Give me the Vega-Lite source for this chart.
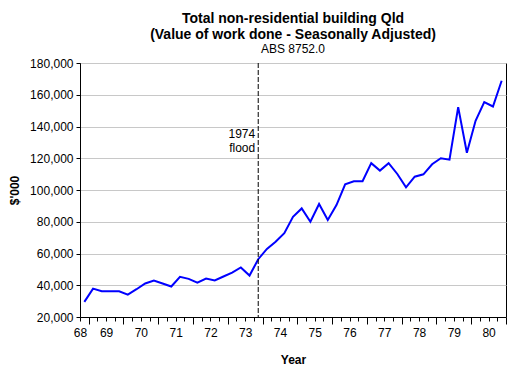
{
  "$schema": "https://vega.github.io/schema/vega-lite/v6.json",
  "width": 426,
  "height": 254,
  "autosize": "none",
  "padding": {"left": 80, "top": 63, "right": 5, "bottom": 56},
  "background": "white",
  "config": {
    "view": {"stroke": "black", "strokeWidth": 1},
    "font": "Liberation Sans",
    "axis": {"labelFont": "Liberation Sans", "titleFont": "Liberation Sans", "labelColor": "black", "titleColor": "black", "domainColor": "black", "tickColor": "black"}
  },
  "title": {
    "text": ["Total non-residential building Qld", "(Value of work done - Seasonally Adjusted)"],
    "subtitle": "ABS 8752.0",
    "fontSize": 14,
    "fontWeight": "bold",
    "lineHeight": 16.5,
    "subtitleFontSize": 12,
    "subtitlePadding": 2,
    "anchor": "middle",
    "offset": 2,
    "color": "black",
    "subtitleColor": "black",
    "font": "Liberation Sans",
    "subtitleFont": "Liberation Sans"
  },
  "datasets": {
    "series": [
      {"q": 0, "value": 29500}, {"q": 1, "value": 37900}, {"q": 2, "value": 36200}, {"q": 3, "value": 36200},
      {"q": 4, "value": 36200}, {"q": 5, "value": 34100}, {"q": 6, "value": 37500}, {"q": 7, "value": 41100},
      {"q": 8, "value": 43000}, {"q": 9, "value": 41100}, {"q": 10, "value": 39200}, {"q": 11, "value": 45300},
      {"q": 12, "value": 44000}, {"q": 13, "value": 41700}, {"q": 14, "value": 44200}, {"q": 15, "value": 43000},
      {"q": 16, "value": 45500}, {"q": 17, "value": 48000}, {"q": 18, "value": 51200}, {"q": 19, "value": 46100},
      {"q": 20, "value": 56400}, {"q": 21, "value": 62900}, {"q": 22, "value": 67400}, {"q": 23, "value": 72800},
      {"q": 24, "value": 83100}, {"q": 25, "value": 88400}, {"q": 26, "value": 80000}, {"q": 27, "value": 91200},
      {"q": 28, "value": 81100}, {"q": 29, "value": 90500}, {"q": 30, "value": 103600}, {"q": 31, "value": 105500},
      {"q": 32, "value": 105500}, {"q": 33, "value": 116900}, {"q": 34, "value": 112200}, {"q": 35, "value": 116900},
      {"q": 36, "value": 110100}, {"q": 37, "value": 101700}, {"q": 38, "value": 108400}, {"q": 39, "value": 109900},
      {"q": 40, "value": 116200}, {"q": 41, "value": 120000}, {"q": 42, "value": 119100}, {"q": 43, "value": 152200},
      {"q": 44, "value": 123500}, {"q": 45, "value": 143600}, {"q": 46, "value": 155400}, {"q": 47, "value": 152600},
      {"q": 48, "value": 168800}
    ],
    "flood": [{"q": 20}],
    "floodLabel": [
      {"q": 20, "value": 135400, "label": "1974"},
      {"q": 20, "value": 126300, "label": "flood"}
    ]
  },
  "layer": [
    {
      "data": {"name": "series"},
      "mark": {"type": "line", "color": "#0000ff", "strokeWidth": 2},
      "encoding": {
        "x": {
          "field": "q",
          "type": "quantitative",
          "scale": {"domain": [-0.5, 48.5], "nice": false, "zero": false},
          "axis": {
            "title": "Year",
            "titleFontSize": 12,
            "titleFontWeight": "bold",
            "titlePadding": 13,
            "grid": false,
            "tickCount": 200,
            "values": [-0.5, 0.5, 1.5, 2.5, 3.5, 4.5, 5.5, 6.5, 7.5, 8.5, 9.5, 10.5, 11.5, 12.5, 13.5, 14.5, 15.5, 16.5, 17.5, 18.5, 19.5, 20.5, 21.5, 22.5, 23.5, 24.5, 25.5, 26.5, 27.5, 28.5, 29.5, 30.5, 31.5, 32.5, 33.5, 34.5, 35.5, 36.5, 37.5, 38.5, 39.5, 40.5, 41.5, 42.5, 43.5, 44.5, 45.5, 46.5, 47.5, 48.5],
            "labelExpr": "datum.value == -0.5 ? '68' : ((datum.value - 2.5) % 4 == 0 ? format(69 + (datum.value - 2.5) / 4, 'd') : '')",
            "tickSize": {"condition": {"test": "(datum.value - 0.5) % 4 == 0", "value": 7}, "value": 4},
            "labelFontSize": 12,
            "labelPadding": 6,
            "labelOverlap": false,
            "labelFlush": false,
            "labelBound": false
          }
        },
        "y": {
          "field": "value",
          "type": "quantitative",
          "scale": {"domain": [20000, 180000], "nice": false, "zero": false},
          "axis": {
            "title": "$'000",
            "titleFontSize": 12,
            "titleFontWeight": "bold",
            "titlePadding": 8,
            "tickCount": 50,
            "values": [20000, 40000, 60000, 80000, 100000, 120000, 140000, 160000, 180000],
            "format": ",d",
            "labelFontSize": 12,
            "labelPadding": 3,
            "labelOverlap": false,
            "tickSize": 4,
            "grid": true,
            "gridColor": "#c8c8c8",
            "gridWidth": 1
          }
        }
      }
    },
    {
      "data": {"name": "flood"},
      "mark": {"type": "rule", "color": "black", "strokeWidth": 1, "strokeDash": [5, 2]},
      "encoding": {"x": {"field": "q", "type": "quantitative"}}
    },
    {
      "data": {"name": "floodLabel"},
      "mark": {"type": "text", "align": "right", "baseline": "middle", "dx": -3, "fontSize": 12, "color": "black", "font": "Liberation Sans"},
      "encoding": {
        "x": {"field": "q", "type": "quantitative"},
        "y": {"field": "value", "type": "quantitative"},
        "text": {"field": "label"}
      }
    }
  ]
}
